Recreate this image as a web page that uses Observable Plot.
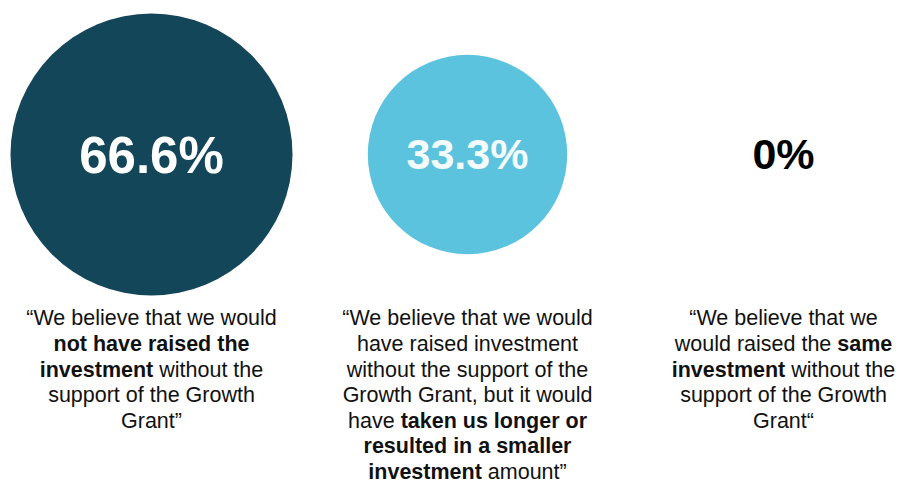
<!DOCTYPE html>
<html>
<head>
<meta charset="utf-8">
<script src="https://cdn.jsdelivr.net/npm/d3@7"></script>
<script src="https://cdn.jsdelivr.net/npm/@observablehq/plot@0.6"></script>
<style>
  html, body { margin: 0; padding: 0; background: #ffffff; }
  #chart svg { display: block; }
</style>
</head>
<body>
<div id="chart"></div>
<script>
// ---- data ----
const categories = ["not raised", "longer or smaller", "same"];
const shares = [66.6, 33.3, 0];
const shareLabels = ["66.6%", "33.3%", "0%"];
const circleColors = ["#134658", "#5BC3DD", "#ffffff"];
const labelColors = ["#ffffff", "#f4fbfd", "#000000"];
const captionA = [
  "“We believe that we would",
  "**not have raised the**",
  "**investment** without the",
  "support of the Growth",
  "Grant”"
];
const captionB = [
  "“We believe that we would",
  "have raised investment",
  "without the support of the",
  "Growth Grant, but it would",
  "have **taken us longer or**",
  "**resulted in a smaller**",
  "**investment** amount”"
];
const captionC = [
  "“We believe that we",
  "would raised the **same**",
  "**investment** without the",
  "support of the Growth",
  "Grant“"
];

// ---- tables ----
const circles = categories.map((c, i) => ({cat: c, value: shares[i], label: shareLabels[i], fill: circleColors[i], color: labelColors[i]}));
const captions = [captionA, captionB, captionC].flatMap((lines, i) =>
  lines.map((t, j) => ({cat: categories[i], line: j, text: t}))
);

const font = "'Liberation Sans', Arial, Helvetica, sans-serif";

const chart = Plot.plot({
  width: 899,
  height: 484,
  marginLeft: 151,
  marginRight: 116,
  marginTop: 0,
  marginBottom: 0,
  style: {fontFamily: font, background: "#ffffff"},
  x: {type: "point", domain: categories, padding: 0, axis: null},
  y: {type: "linear", domain: [0, 6], range: [318, 471.6], axis: null},
  r: {type: "sqrt", domain: [0, 66.6], range: [0, 141]},
  marks: [
    Plot.dot(circles, {
      x: "cat", r: "value", fill: (d) => d.fill, stroke: "none",
      frameAnchor: "top", dy: 154
    }),
    Plot.text(circles.slice(0, 1), {
      x: "cat", text: "label", fill: (d) => d.color,
      frameAnchor: "top", lineAnchor: "middle", dy: 156, fontSize: 51, fontWeight: "bold"
    }),
    Plot.text(circles.slice(1), {
      x: "cat", text: "label", fill: (d) => d.color,
      frameAnchor: "top", lineAnchor: "middle", dy: 155, fontSize: 43, fontWeight: "bold"
    }),
    Plot.text(captions, {
      x: "cat", y: "line", text: "text", fill: "#111111",
      fontSize: 21.5, textAnchor: "middle", lineAnchor: "middle"
    })
  ]
});

// turn **bold** markers into bold tspans (text stays real text)
chart.querySelectorAll("text").forEach((el) => {
  const s = el.textContent;
  if (!s.includes("**")) return;
  const parts = s.split("**");
  el.textContent = "";
  parts.forEach((p, k) => {
    if (!p) return;
    const ts = document.createElementNS("http://www.w3.org/2000/svg", "tspan");
    ts.textContent = p;
    if (k % 2 === 1) ts.setAttribute("font-weight", "bold");
    el.appendChild(ts);
  });
});

document.getElementById("chart").appendChild(chart);
</script>
</body>
</html>
